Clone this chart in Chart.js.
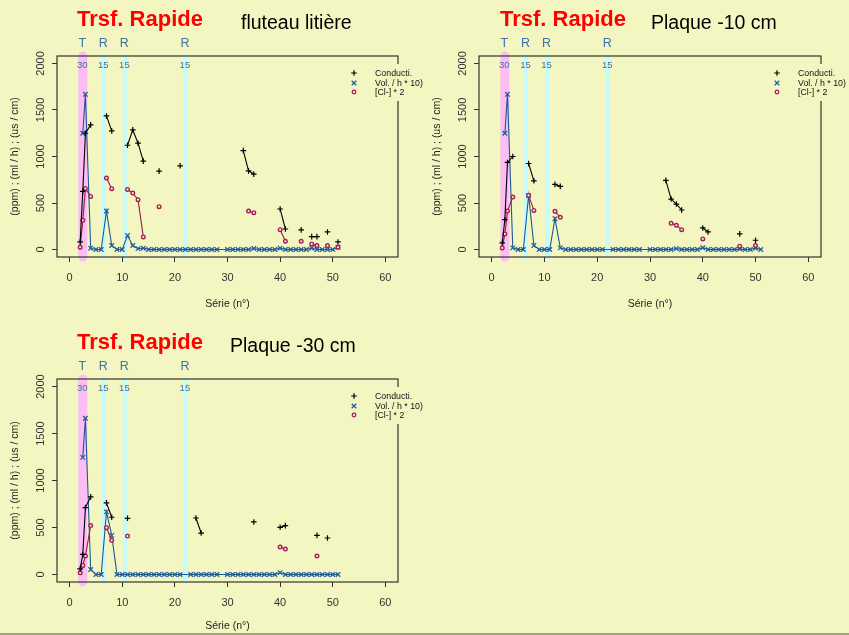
<!DOCTYPE html>
<html>
<head>
<meta charset="utf-8">
<title>Trsf. Rapide</title>
<script src="https://cdn.jsdelivr.net/npm/chart.js@4.4.1/dist/chart.umd.min.js"></script>
<style>
  html, body { margin: 0; padding: 0; background: #f4f6c1; }
  #page { position: relative; width: 849px; height: 635px; background: #f4f6c1; overflow: hidden;
          font-family: "Liberation Sans", Arial, Helvetica, sans-serif; }
  #page canvas { position: absolute; }
  .ttl { position: absolute; white-space: nowrap; line-height: 1; }
  .red { color: #ff0000; font-weight: bold; font-size: 22px; }
  .blk { color: #000; font-size: 19.5px; }
  #foot { position: absolute; left: 0; top: 633px; width: 849px; height: 2px; background: #a3a383; }
</style>
</head>
<body>
<div id="page">
  <canvas id="c1" width="425" height="320" style="left:0;top:0"></canvas>
  <canvas id="c2" width="427" height="320" style="left:422px;top:0"></canvas>
  <canvas id="c3" width="425" height="315" style="left:0;top:320px"></canvas>

  <div class="ttl red" style="left:77px;top:8px">Trsf. Rapide</div>
  <div class="ttl blk" style="left:241px;top:13px">fluteau litière</div>
  <div class="ttl red" style="left:500px;top:8px">Trsf. Rapide</div>
  <div class="ttl blk" style="left:651px;top:13px">Plaque -10 cm</div>
  <div class="ttl red" style="left:77px;top:331px">Trsf. Rapide</div>
  <div class="ttl blk" style="left:230px;top:336px">Plaque -30 cm</div>
  <div id="foot"></div>
</div>
<script>
var FONT = '"Liberation Sans", Arial, Helvetica, sans-serif';

// n° de série (abscisse commune)
var serie = [2, 2.5, 3, 4, 5, 6, 7, 8, 9, 10,
  11, 12, 13, 14, 15, 16, 17, 18, 19, 20,
  21, 22, 23, 24, 25, 26, 27, 28, 29, 30,
  31, 32, 33, 34, 35, 36, 37, 38, 39, 40,
  41, 42, 43, 44, 45, 46, 47, 48, 49, 50,
  51];

var xTicks = [0, 10, 20, 30, 40, 50, 60];
var yTicks = [0, 500, 1000, 1500, 2000];

var bandX = [2.5, 6.5, 10.5, 22];
var bandLetter = ["T", "R", "R", "R"];
var bandDose = ["30", "15", "15", "15"];
var legendNames = ["Conducti.", "Vol. / h * 10)", "[Cl-] * 2"];

// fluteau litière
var cond1 = [82, 625, 1250, 1340, null, null, 1436, 1275, null, null,
  1121, 1286, 1143, 950, null, null, 843, null, null, null,
  900, null, null, null, null, null, null, null, null, null,
  null, null, 1064, 846, 811, null, null, null, null, 436,
  221, null, null, 211, null, 139, 139, null, 189, null,
  82];
var vol1 = [null, 1250, 1668, 15, 0, 0, 414, 43, 0, 0,
  150, 43, 10, 15, 0, 0, 0, 0, 0, 0,
  0, 0, 0, 0, 0, 0, 0, 0, null, 0,
  0, 0, 0, 0, 12, 0, 0, 0, 0, 15,
  0, 0, 0, 0, 0, 15, 0, 0, 0, 0,
  25];
var cl1 = [25, 314, 657, 571, null, null, 768, 654, null, null,
  646, 607, 536, 136, null, null, 461, null, null, null,
  null, null, null, null, null, null, null, null, null, null,
  null, null, null, 414, 396, null, null, null, null, 214,
  89, null, null, 89, null, 61, 43, null, 43, null,
  25];

// Plaque -10 cm
var cond2 = [71, 321, 936, 1000, null, null, 925, 739, null, null,
  null, 700, 679, null, null, null, null, null, null, null,
  null, null, null, null, null, null, null, null, null, null,
  null, null, 743, 543, 489, 425, null, null, null, 232,
  189, null, null, null, null, null, 168, null, null, 100,
  null];
var vol2 = [null, 1250, 1668, 18, 0, 0, 582, 43, 0, 0,
  0, 332, 18, 0, 0, 0, 0, 0, 0, 0,
  0, null, 0, 0, 0, 0, 0, 0, null, 0,
  0, 0, 0, 0, 10, 0, 0, 0, 0, 20,
  0, 0, 0, 0, 0, 0, 5, 0, 0, 15,
  0];
var cl2 = [18, 168, 414, 564, null, null, 582, 421, null, null,
  null, 411, 346, null, null, null, null, null, null, null,
  null, null, null, null, null, null, null, null, null, null,
  null, null, null, 282, 261, 214, null, null, null, 114,
  null, null, null, null, null, null, 36, null, null, 43,
  null];

// Plaque -30 cm
var cond3 = [60, 213, 712, 826, null, null, 762, 609, null, null,
  598, null, null, null, null, null, null, null, null, null,
  null, null, null, 601, 441, null, null, null, null, null,
  null, null, null, null, 559, null, null, null, null, 502,
  520, null, null, null, null, null, 416, null, 388, null,
  null];
var vol3 = [null, 1246, 1662, 53, 0, 0, 666, 416, 0, 0,
  0, 0, 0, 0, 0, 0, 0, 0, 0, 0,
  0, null, 0, 0, 0, 0, 0, 0, null, 0,
  0, 0, 0, 0, 0, 0, 0, 0, 0, 20,
  0, 0, 0, 0, 0, 0, 0, 0, 0, 0,
  0];
var cl3 = [18, 96, 196, 520, null, null, 498, 363, null, null,
  409, null, null, null, null, null, null, null, null, null,
  null, null, null, null, null, null, null, null, null, null,
  null, null, null, null, null, null, null, null, null, 292,
  270, null, null, null, null, null, 196, null, null, null,
  null];

var BG = '#f4f6c1';
var colCond = '#000000', colVol = '#23609f', colVolLine = '#1b5896';
var colCl = '#a51d5d', colClLine = '#8e1a50';
var colBandLbl = '#3f70a6';

function pts(ys) {
  var out = [];
  for (var i = 0; i < serie.length; i++) out.push({x: serie[i], y: ys[i]});
  return out;
}

function marker(ctx, kind, x, y) {
  ctx.beginPath();
  if (kind === 0) {
    ctx.strokeStyle = colCond; ctx.lineWidth = 1.2;
    ctx.moveTo(x - 2.8, y); ctx.lineTo(x + 2.8, y);
    ctx.moveTo(x, y - 2.8); ctx.lineTo(x, y + 2.8);
    ctx.stroke();
  } else if (kind === 1) {
    ctx.strokeStyle = colVol; ctx.lineWidth = 1.3;
    ctx.moveTo(x - 2.3, y - 2.3); ctx.lineTo(x + 2.3, y + 2.3);
    ctx.moveTo(x - 2.3, y + 2.3); ctx.lineTo(x + 2.3, y - 2.3);
    ctx.stroke();
  } else {
    ctx.strokeStyle = colCl; ctx.lineWidth = 1.3;
    ctx.arc(x, y, 1.8, 0, Math.PI * 2);
    ctx.stroke();
  }
}

var decor = {
  id: 'decor',
  afterDatasetsDraw: function (chart) {
    var ctx = chart.ctx, a = chart.chartArea, sx = chart.scales.x;
    ctx.save();
    // cadre
    ctx.strokeStyle = '#333';
    ctx.lineWidth = 1.2;
    ctx.strokeRect(a.left, a.top, a.right - a.left, a.bottom - a.top);
    // étiquettes des traitements
    ctx.fillStyle = colBandLbl;
    ctx.textAlign = 'center';
    ctx.textBaseline = 'alphabetic';
    for (var i = 0; i < bandX.length; i++) {
      var px = sx.getPixelForValue(bandX[i]) - 0.5;
      ctx.font = '12.5px ' + FONT;
      ctx.fillText(bandLetter[i], px, a.top - 9);
      ctx.font = '9.5px ' + FONT;
      ctx.fillText(bandDose[i], px, a.top + 12);
    }
    // légende
    ctx.fillStyle = BG;
    ctx.fillRect(a.right - 50, a.top + 8, 80, 37);
    ctx.font = '8.8px ' + FONT;
    ctx.textAlign = 'left';
    ctx.textBaseline = 'middle';
    var rows = [17, 27, 36];
    for (var k = 0; k < legendNames.length; k++) {
      marker(ctx, k, a.right - 44, a.top + rows[k]);
      ctx.fillStyle = '#111';
      ctx.fillText(legendNames[k], a.right - 23, a.top + rows[k] + 0.5);
    }
    ctx.restore();
  }
};

function makeChart(id, cond, vol, cl, pad, xh) {
  var datasets = [];
  for (var i = 0; i < bandX.length; i++) {
    datasets.push({
      data: [{x: bandX[i], y: -80}, {x: bandX[i], y: 2080}],
      showLine: true,
      borderColor: i === 0 ? '#fbbdf3' : '#c6fbfb',
      borderWidth: i === 0 ? 9 : 4,
      borderCapStyle: 'round',
      pointRadius: 0,
      clip: false,
      order: 10
    });
  }
  datasets.push({
    label: legendNames[1], data: pts(vol), showLine: true, spanGaps: true,
    borderColor: colVolLine, borderWidth: 1.1,
    pointStyle: 'crossRot', pointRadius: 3.2, pointBorderColor: colVol, pointBorderWidth: 1.3,
    order: 3
  });
  datasets.push({
    label: legendNames[2], data: pts(cl), showLine: true, spanGaps: false,
    borderColor: colClLine, borderWidth: 1.1,
    pointStyle: 'circle', pointRadius: 1.8, pointBackgroundColor: BG,
    pointBorderColor: colCl, pointBorderWidth: 1.4,
    order: 2
  });
  datasets.push({
    label: legendNames[0], data: pts(cond), showLine: true, spanGaps: false,
    borderColor: colCond, borderWidth: 1.1,
    pointStyle: 'cross', pointRadius: 2.8, pointBorderColor: colCond, pointBorderWidth: 1.2,
    order: 1
  });

  return new Chart(document.getElementById(id), {
    type: 'scatter',
    data: { datasets: datasets },
    options: {
      responsive: false,
      animation: false,
      events: [],
      layout: { padding: pad },
      plugins: { legend: { display: false }, tooltip: { enabled: false } },
      scales: {
        x: {
          type: 'linear', min: -2.4, max: 62.4,
          afterBuildTicks: function (s) { s.ticks = xTicks.map(function (v) { return {value: v}; }); },
          afterFit: function (s) { s.height = xh; },
          ticks: { font: { size: 11, family: FONT }, color: '#333', padding: 9, maxRotation: 0, autoSkip: false,
                   callback: function (v) { return String(v); } },
          grid: { drawOnChartArea: false, drawTicks: true, tickLength: 5, color: '#333', lineWidth: 1 },
          border: { display: false },
          title: { display: true, text: 'Série (n°)', font: { size: 10.5, family: FONT }, color: '#222',
                   padding: { top: 0, bottom: 2 } }
        },
        y: {
          type: 'linear', min: -80, max: 2080,
          afterBuildTicks: function (s) { s.ticks = yTicks.map(function (v) { return {value: v}; }); },
          afterFit: function (s) { s.width = 57; },
          ticks: { font: { size: 11, family: FONT }, color: '#333', padding: -1,
                   minRotation: 90, maxRotation: 90, crossAlign: 'center',
                   callback: function (v) { return String(v); } },
          grid: { drawOnChartArea: false, drawTicks: true, tickLength: 5, color: '#333', lineWidth: 1 },
          border: { display: false },
          title: { display: true, text: '(ppm) ; (ml / h) ; (us / cm)', font: { size: 10.5, family: FONT },
                   color: '#222', padding: { top: 9, bottom: 0 } }
        }
      }
    },
    plugins: [decor]
  });
}

makeChart('c1', cond1, vol1, cl1, { left: 0, top: 56, right: 27, bottom: 8 }, 55);
makeChart('c2', cond2, vol2, cl2, { left: 0, top: 56, right: 28, bottom: 8 }, 55);
makeChart('c3', cond3, vol3, cl3, { left: 0, top: 59, right: 27, bottom: 1 }, 52);
</script>
</body>
</html>
